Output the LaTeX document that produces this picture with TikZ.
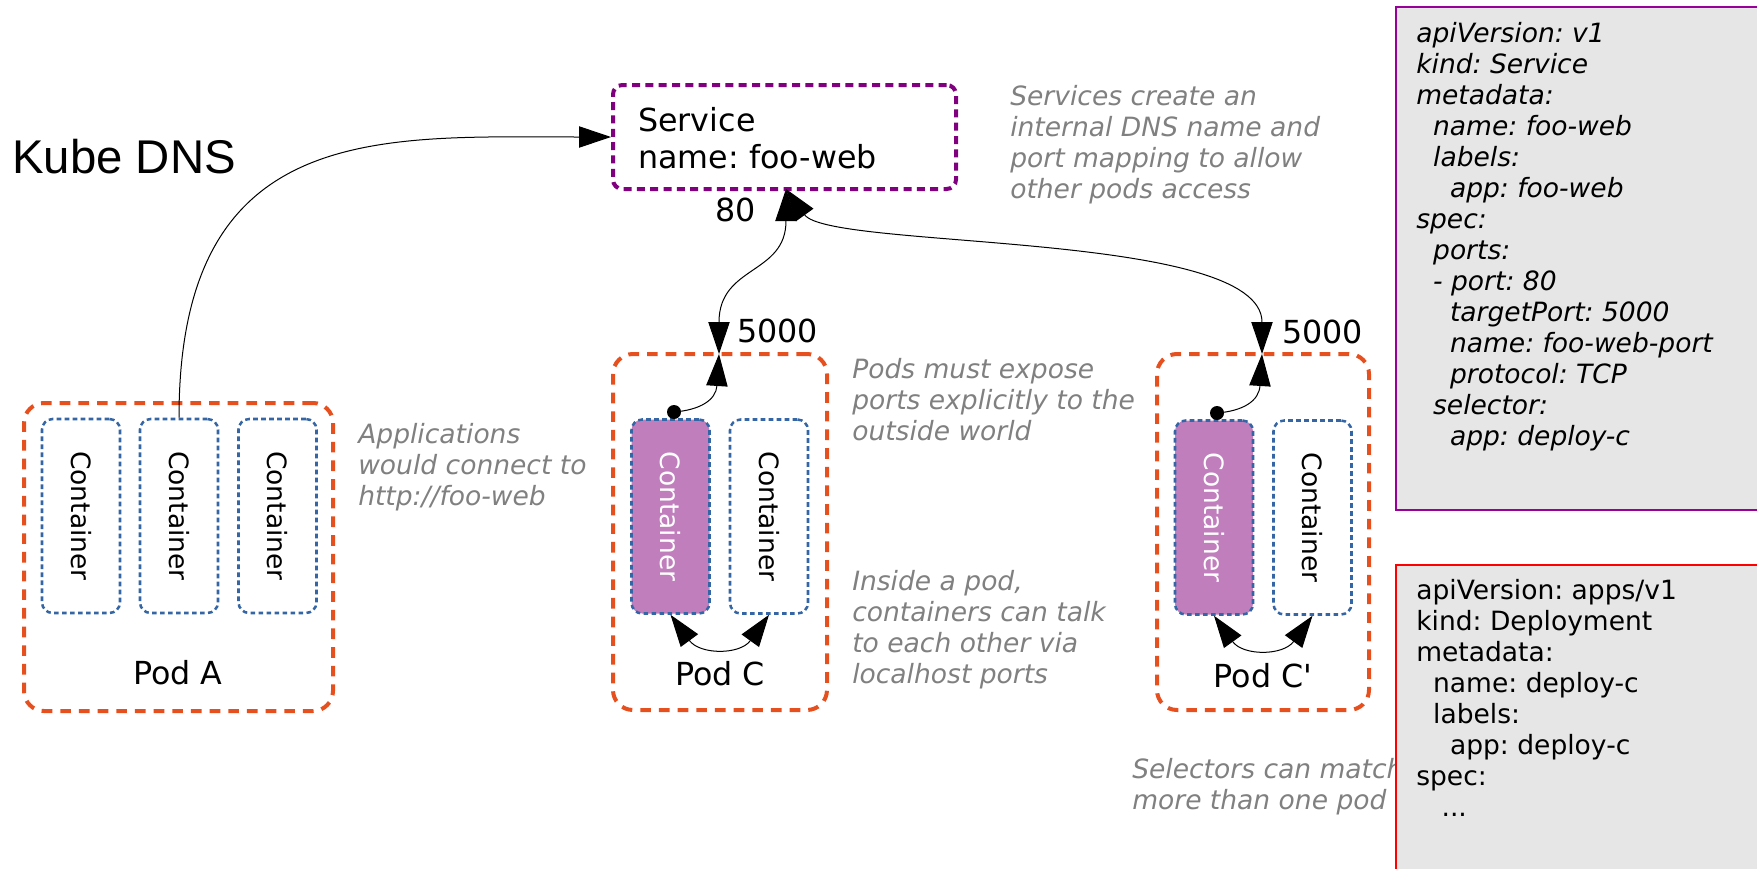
\documentclass[tikz,border=0pt]{standalone}
\usepackage{fontspec}
\setmainfont{DejaVu Sans}[ItalicFont={DejaVu Sans Oblique}]
\newfontfamily\kubefont{Liberation Sans}
\usepackage{graphicx}
\usetikzlibrary{arrows.meta,fit}
\definecolor{podorange}{RGB}{230,80,30}
\definecolor{svcpurple}{RGB}{128,0,128}
\definecolor{ctrblue}{RGB}{52,101,164}
\definecolor{ctrfill}{RGB}{192,126,189}
\definecolor{notegray}{RGB}{128,128,128}
\definecolor{yamlfill}{RGB}{230,230,230}
\definecolor{yamlpurple}{RGB}{153,0,153}
\definecolor{yamlred}{RGB}{255,0,0}
\newcommand\indtwo{\hspace*{0.636em}}
\newcommand\indthree{\hspace*{0.954em}}
\newcommand\indfour{\hspace*{1.272em}}
\newcommand\ctrtext{\rotatebox{-90}{Container}}
\frenchspacing
\begin{document}
\begin{tikzpicture}[x=0.75pt,y=-0.75pt,
  >={Triangle[length=24pt,width=16pt]},
  pod/.style={draw=podorange, line width=3pt, dash pattern=on 8pt off 6pt, rounded corners=15pt, inner sep=0pt},
  svcbox/.style={draw=svcpurple, line width=3pt, dash pattern=on 6pt off 4pt, rounded corners=7pt, inner sep=0pt},
  ctr/.style={draw=ctrblue, line width=1.9pt, dash pattern=on 3.5pt off 2.5pt, rounded corners=8pt, minimum width=58.5pt, minimum height=145.5pt, inner sep=0pt, font=\fontsize{19.9}{23.25}\selectfont},
  ctrhot/.style={ctr, fill=ctrfill, text=white},
  big/.style={font=\fontsize{23.8}{27.75}\selectfont, inner sep=0pt},
  note/.style={font=\fontsize{19.9}{23.25}\selectfont\itshape, text=notegray, align=left, anchor=base west, inner sep=0pt},
  yaml/.style={fill=yamlfill, line width=1pt, inner sep=0pt},
  yamltext/.style={align=left, anchor=base west, inner sep=0pt},
  conn/.style={line width=0.75pt, draw=black},
  portdot/.style={circle, fill=black, inner sep=0pt, minimum size=10.5pt}
]
\useasboundingbox (0,0) rectangle (1757,868);
\clip (0,0) rectangle (1757,868);

% title
\node[anchor=base west, inner sep=0pt, font=\kubefont\fontsize{35.5}{42}\selectfont] (kube) at (12,173) {Kube DNS};

% service
\node[svcbox, fit={(613,85)(956,189)}] (svc) {};
\node[big, align=left, anchor=base west] (svctext) at (638,168) {Service\\name: foo-web};
\coordinate (svcport) at (786,189);
\node[big, anchor=base west] (p80) at (715,221) {80};

% pods
\node[pod, fit={(24,403)(333,711)}] (podA) {};
\node[pod, fit={(613,354)(827,710)}] (podC) {};
\node[pod, fit={(1157,354)(1369,710)}] (podC2) {};

\node[ctr] (ctrA1) at (81,516) {\ctrtext};
\node[ctr] (ctrA2) at (179,516) {\ctrtext};
\node[ctr] (ctrA3) at (277.5,516) {\ctrtext};
\node[ctrhot] (ctrC1) at (670.5,516.5) {\ctrtext};
\node[ctr] (ctrC2) at (769,516.5) {\ctrtext};
\node[ctrhot] (ctrD1) at (1214,517.5) {\ctrtext};
\node[ctr] (ctrD2) at (1312.5,517.5) {\ctrtext};

\node[big, anchor=base] (lblA) at (178,684) {Pod A};
\node[big, anchor=base] (lblC) at (720,685) {Pod C};
\node[big, anchor=base] (lblC2) at (1263,687) {Pod C\textquotesingle};

\coordinate (portC) at (719,354);
\coordinate (portC2) at (1262,354);
\node[big, anchor=base west] (p5000c) at (737,342) {5000};
\node[big, anchor=base west] (p5000c2) at (1282,343) {5000};

\node[portdot] (dotC) at (674,412) {};
\node[portdot] (dotC2) at (1217,413) {};

% connectors
\draw[conn,->] (ctrA2.north) .. controls (179,120) and (380,137) .. (svc.west);
\draw[conn,<->] (svcport) .. controls (786,275) and (719,265) .. (portC);
\draw[conn,<->] (svcport) .. controls (830,250) and (1262,230) .. (portC2);
\draw[conn,->] (dotC.center) .. controls (700,410) and (716,400) .. (portC);
\draw[conn,->] (dotC2.center) .. controls (1243,411) and (1259,401) .. (portC2);
\draw[conn,<->] (ctrC1.south) .. controls (700,655) and (740,655) .. (ctrC2.south);
\draw[conn,<->] (ctrD1.south) .. controls (1243,656) and (1283,656) .. (ctrD2.south);

% notes
\node[note] (noteSvc) at (1010,198) {Services create an\\internal DNS name and\\port mapping to allow\\other pods access};
\node[note] (noteApp) at (358,505) {Applications\\would connect to\\http://foo-web};
\node[note] (notePods) at (852,440) {Pods must expose\\ports explicitly to the\\outside world};
\node[note] (noteInside) at (852,683) {Inside a pod,\\containers can talk\\to each other via\\localhost ports};
\node[note] (noteSel) at (1132,809) {Selectors can match\\more than one pod};

% yaml boxes
\node[yaml, draw=yamlpurple, fit={(1396,7)(1768,510)}] (yamlSvc) {};
\node[yaml, draw=yamlred, fit={(1396,565)(1768,880)}] (yamlDep) {};
\node[yamltext, font=\fontsize{19.9}{23.25}\selectfont\itshape] (ySvcText) at (1416,445) {apiVersion: v1\\kind: Service\\metadata:\\\indtwo name: foo-web\\\indtwo labels:\\\indfour app: foo-web\\spec:\\\indtwo ports:\\\indtwo - port: 80\\\indfour targetPort: 5000\\\indfour name: foo-web-port\\\indfour protocol: TCP\\\indtwo selector:\\\indfour app: deploy-c};
\node[yamltext, font=\fontsize{19.9}{23.25}\selectfont] (yDepText) at (1416,816) {apiVersion: apps/v1\\kind: Deployment\\metadata:\\\indtwo name: deploy-c\\\indtwo labels:\\\indfour app: deploy-c\\spec:\\\indthree ...};
\end{tikzpicture}
\end{document}
